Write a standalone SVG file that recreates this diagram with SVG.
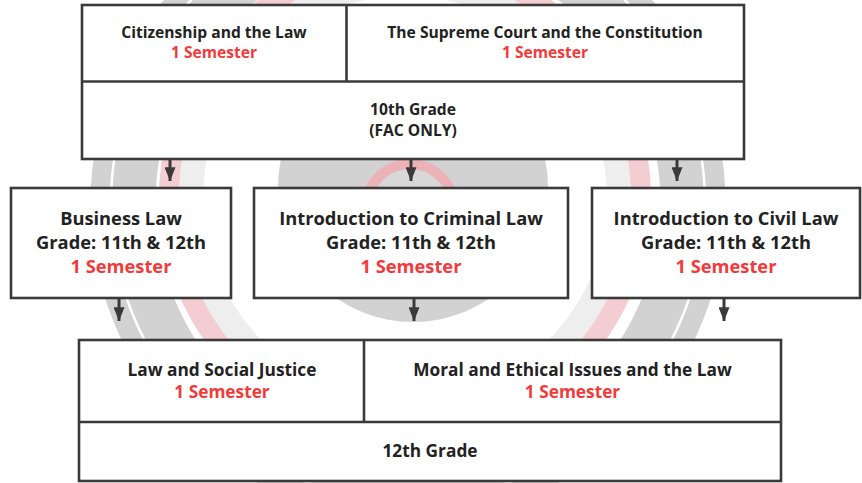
<svg xmlns="http://www.w3.org/2000/svg" width="862" height="483" viewBox="0 0 862 483">
<defs>
<style>
.box{fill:#fff;stroke:#3a3a3a;stroke-width:2.6}
.div{stroke:#3a3a3a;stroke-width:2.6;fill:none}
.t{font-family:"Open Sans","DejaVu Sans",sans-serif;font-weight:700;fill:#222;text-anchor:middle}
.s{font-size:15.6px}
.m{font-size:18.3px}
.b{font-size:17.3px}
.r{fill:#f23a3a}
.con{stroke:#3a3a3a;stroke-width:3;fill:none;marker-end:url(#ah)}
</style>
<marker id="ah" viewBox="0 0 10 8" refX="10" refY="4" markerUnits="userSpaceOnUse" markerWidth="14" markerHeight="11" orient="auto">
<path d="M0,0 L10,4 L0,8 Z" fill="#3a3a3a"/>
</marker>
</defs>
<rect width="862" height="483" fill="#fff"/>
<g id="watermark">
<circle cx="408" cy="203" r="285" fill="none" stroke="#d2d2d2" stroke-width="65"/>
<circle cx="408" cy="203" r="297" fill="none" stroke="#fff" stroke-width="2.5"/>
<circle cx="405" cy="198" r="214" fill="none" stroke="#eeeeee" stroke-width="24"/>
<circle cx="405" cy="198" r="236" fill="none" stroke="#f3cdd1" stroke-width="20"/>
<circle cx="413" cy="187" r="135" fill="#d2d2d2"/>
<circle cx="410" cy="208" r="44" fill="#d8d8d8" stroke="#ebb2b8" stroke-width="10"/>
</g>
<g id="connectors">
<line class="con" x1="170" y1="159" x2="170" y2="181"/>
<line class="con" x1="411" y1="159" x2="411" y2="181"/>
<line class="con" x1="677" y1="159" x2="677" y2="181"/>
<line class="con" x1="119" y1="298" x2="119" y2="321"/>
<line class="con" x1="414" y1="298" x2="414" y2="321"/>
<line class="con" x1="724" y1="298" x2="724" y2="321"/>
</g>
<g id="grade10">
<rect class="box" x="82" y="5" width="662" height="154"/>
<line class="div" x1="82" y1="81.5" x2="744" y2="81.5"/>
<line class="div" x1="346.5" y1="5" x2="346.5" y2="81.5"/>
<g id="citizenship">
<text class="t s" x="214" y="37.6">Citizenship and the Law</text>
<text class="t s r" x="214" y="57.6">1 Semester</text>
</g>
<g id="supreme-court">
<text class="t s" x="545" y="37.6">The Supreme Court and the Constitution</text>
<text class="t s r" x="545" y="57.6">1 Semester</text>
</g>
<text class="t s" x="413" y="114.6">10th Grade</text>
<text class="t s" x="413" y="135.6">(FAC ONLY)</text>
</g>
<g id="business-law">
<rect class="box" x="11" y="188" width="220" height="110"/>
<text class="t m" x="121" y="224.6">Business Law</text>
<text class="t m" x="121" y="248.6">Grade: 11th &amp; 12th</text>
<text class="t m r" x="121" y="272.6">1 Semester</text>
</g>
<g id="criminal-law">
<rect class="box" x="254" y="188" width="314" height="110"/>
<text class="t m" x="411" y="224.6">Introduction to Criminal Law</text>
<text class="t m" x="411" y="248.6">Grade: 11th &amp; 12th</text>
<text class="t m r" x="411" y="272.6">1 Semester</text>
</g>
<g id="civil-law">
<rect class="box" x="592" y="188" width="268" height="110"/>
<text class="t m" x="726" y="224.6">Introduction to Civil Law</text>
<text class="t m" x="726" y="248.6">Grade: 11th &amp; 12th</text>
<text class="t m r" x="726" y="272.6">1 Semester</text>
</g>
<g id="grade12">
<rect class="box" x="79" y="340" width="702" height="141"/>
<line class="div" x1="79" y1="422" x2="781" y2="422"/>
<line class="div" x1="364" y1="340" x2="364" y2="422"/>
<g id="social-justice">
<text class="t b" x="222" y="376">Law and Social Justice</text>
<text class="t b r" x="222" y="398">1 Semester</text>
</g>
<g id="moral-ethical">
<text class="t b" x="572.5" y="376">Moral and Ethical Issues and the Law</text>
<text class="t b r" x="572.5" y="398">1 Semester</text>
</g>
<text class="t b" x="430" y="457">12th Grade</text>
</g>
</svg>
